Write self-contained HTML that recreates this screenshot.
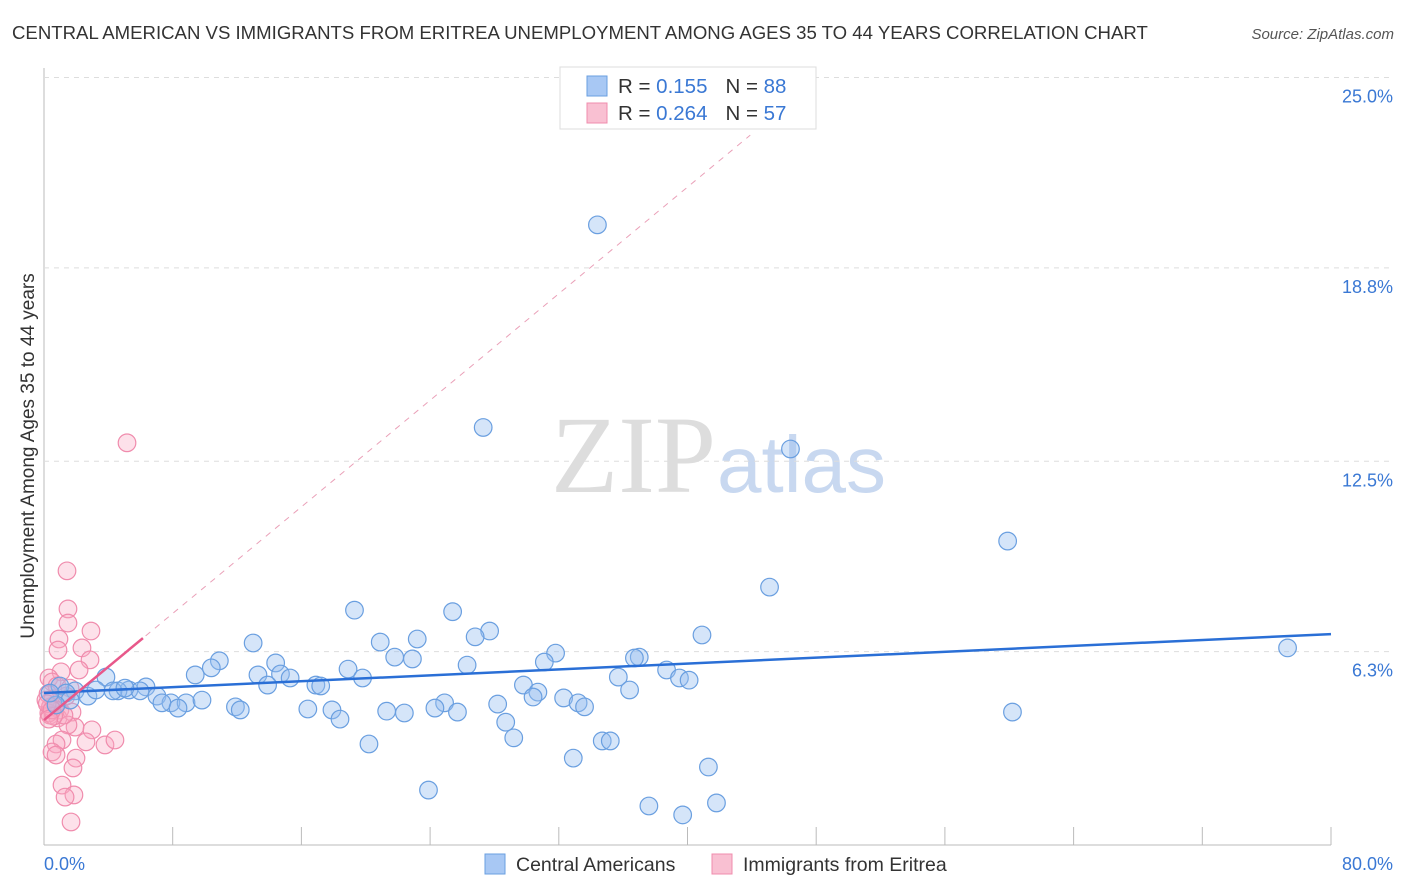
<!DOCTYPE html>
<html><head><meta charset="utf-8"><style>
body{margin:0;background:#fff;font-family:"Liberation Sans",sans-serif;}
svg{display:block}
</style></head><body>
<svg id="c" width="1406" height="892" xmlns="http://www.w3.org/2000/svg">
<text x="12" y="39" font-size="18.6" fill="#333">CENTRAL AMERICAN VS IMMIGRANTS FROM ERITREA UNEMPLOYMENT AMONG AGES 35 TO 44 YEARS CORRELATION CHART</text>
<text x="1394" y="39" font-size="15" fill="#555" font-style="italic" text-anchor="end">Source: ZipAtlas.com</text>
<text x="716" y="492" font-size="110" fill="#ddd" font-family="Liberation Serif,serif" text-anchor="end">ZIP</text>
<text x="717" y="492" font-size="80" fill="#c8d8f0">atlas</text>
<text transform="translate(34,456) rotate(-90)" font-size="19" fill="#333" text-anchor="middle">Unemployment Among Ages 35 to 44 years</text>
<g id="grid"></g><g id="pts"></g><g id="lines"></g>
<g>
<rect x="560" y="67" width="256" height="62" fill="#fff" stroke="#ddd"/>
<rect x="587" y="76" width="20" height="20" fill="#a8c8f4" stroke="#6a9fe0"/>
<rect x="587" y="103" width="20" height="20" fill="#f9c0d2" stroke="#f08cad"/>
<text x="618" y="93" font-size="20.5" fill="#333">R = <tspan fill="#3a78d4">0.155</tspan><tspan dx="18">N = </tspan><tspan fill="#3a78d4">88</tspan></text>
<text x="618" y="120" font-size="20.5" fill="#333">R = <tspan fill="#3a78d4">0.264</tspan><tspan dx="18">N = </tspan><tspan fill="#3a78d4">57</tspan></text>
</g>
<g>
<rect x="485" y="854" width="20" height="20" fill="#a8c8f4" stroke="#6a9fe0"/>
<text x="516" y="871" font-size="19.5" fill="#333">Central Americans</text>
<rect x="712" y="854" width="20" height="20" fill="#f9c0d2" stroke="#f08cad"/>
<text x="743" y="871" font-size="19.5" fill="#333">Immigrants from Eritrea</text>
</g>
</svg>
<script>
const yTicks=[6.3,12.5,18.8,25.0];
const xTickLabels=["0.0%","80.0%"];
const blueX=[34.4,27.3,46.4,59.9,45.1,19.3,25.4,27.7,26.8,20.9,23.2,13.0,40.9,77.3,31.8,37.0,36.7,21.8,22.9,31.1,26.3,10.9,10.4,18.9,14.4,38.7,9.4,13.3,14.7,35.7,19.8,39.5,40.1,15.3,16.9,17.2,3.85,13.9,29.8,6.34,5.28,4.6,7.02,1.93,2.73,30.7,36.4,30.4,32.3,7.89,8.83,7.33,9.82,8.33,11.9,12.2,24.9,33.2,33.6,24.3,25.7,16.4,17.9,21.3,22.4,28.2,60.2,18.4,28.7,29.2,34.7,35.2,20.2,32.9,41.3,23.9,41.8,37.6,39.7,0.99,1.37,1.62,0.75,0.37,4.29,3.23,5.97,5.03];
const blueY=[20.2,13.6,12.9,9.9,8.4,7.65,7.6,6.97,6.78,6.61,6.71,6.58,6.84,6.42,6.25,6.12,6.09,6.12,6.06,5.96,5.86,6.0,5.77,5.73,5.93,5.70,5.54,5.54,5.57,5.47,5.44,5.44,5.37,5.44,5.21,5.18,5.47,5.21,5.21,5.15,5.05,5.02,4.85,5.02,4.85,4.98,5.05,4.82,4.79,4.63,4.63,4.63,4.72,4.46,4.5,4.4,4.63,4.63,4.5,4.46,4.33,4.43,4.4,4.36,4.3,4.59,4.33,4.1,4.0,3.49,3.39,3.39,3.29,2.83,2.54,1.79,1.37,1.27,0.98,5.18,4.95,4.72,4.56,4.95,5.02,5.05,5.02,5.11];
const pinkX=[5.16,1.43,1.49,1.49,2.92,0.93,2.36,0.87,2.86,2.18,1.06,0.31,0.5,0.81,1.62,0.25,0.12,0.68,0.99,0.37,0.87,1.74,1.93,2.98,1.49,2.61,1.12,0.75,3.79,4.41,1.99,1.8,0.5,0.75,1.12,1.86,1.31,1.68,1.24,0.56,1.37,0.3,0.4,0.6,0.2,0.5,0.3];
const pinkY=[13.1,8.93,7.69,7.23,6.97,6.71,6.42,6.35,6.03,5.7,5.64,5.44,5.31,5.18,5.11,4.92,4.72,4.56,4.4,4.23,4.14,4.33,3.84,3.75,3.91,3.36,3.42,3.29,3.26,3.42,2.83,2.51,3.03,2.93,1.95,1.63,1.56,0.75,4.23,4.76,4.85,4.3,4.5,4.2,4.6,4.4,4.1];
const blueTrend=[4.95,6.87];
const pinkTrend=[4.07,0.434];
const X0=44,X1=1331,Y0=845;
const sx=v=>X0+v*(X1-X0)/80, sy=v=>Y0-v*30.7;
const NS="http://www.w3.org/2000/svg";
function mk(t,a,p){const e=document.createElementNS(NS,t);for(const k in a)e.setAttribute(k,a[k]);p.appendChild(e);return e;}
const g=document.getElementById('grid');
let ax=mk('line',{x1:X0,y1:68,x2:X0,y2:Y0,stroke:'#bbb'},g);


let bx=mk('line',{x1:X0,y1:Y0,x2:X1,y2:Y0,stroke:'#bbb'},g);


yTicks.forEach(v=>{
 const y=sy(v);
 const l=mk('line',{x1:X0,y1:y,x2:1394,y2:y,stroke:'#ddd','stroke-dasharray':'5,5'},g);
 
 
 const t=mk('text',{x:1393,y:y+25,'font-size':18,fill:'#3a78d4','text-anchor':'end'},g);
 t.textContent=v.toFixed(1)+'%';
 
 
});
for(let i=0;i<=10;i++){
 const x=sx(i*8);
 const l=mk('line',{x1:x,y1:Y0,x2:x,y2:Y0-18,stroke:'#bbb'},g);
 
 
}
xTickLabels.forEach((s,i)=>{
 const t=mk('text',{x:i?1393:44,y:870,'font-size':18,fill:'#3a78d4','text-anchor':i?'end':'start'},g);
 t.textContent=s;
 
 
});
const p=document.getElementById('pts');
pinkX.forEach((v,i)=>{
 const c=mk('circle',{cx:sx(v),cy:sy(pinkY[i]),r:8.8,fill:'rgba(248,170,196,0.35)',stroke:'#f08cad','stroke-width':1.2},p);
 
 
});
blueX.forEach((v,i)=>{
 const c=mk('circle',{cx:sx(v),cy:sy(blueY[i]),r:8.8,fill:'rgba(150,190,240,0.4)',stroke:'#6a9fe0','stroke-width':1.2},p);
 
 
});
const L=document.getElementById('lines');
const pd=mk('line',{x1:sx(0),y1:sy(pinkTrend[0]),x2:sx(43.9),y2:sy(pinkTrend[0]+pinkTrend[1]*43.9),stroke:'#eaa0b8','stroke-dasharray':'6,6','stroke-width':1},L);


const bl=mk('line',{x1:sx(0),y1:sy(blueTrend[0]),x2:sx(80),y2:sy(blueTrend[1]),stroke:'#2a6fd6','stroke-width':2.5},L);


const pl=mk('line',{x1:sx(0),y1:sy(pinkTrend[0]),x2:sx(6.15),y2:sy(pinkTrend[0]+pinkTrend[1]*6.15),stroke:'#e8588a','stroke-width':2.5},L);


</script>
</body></html>
